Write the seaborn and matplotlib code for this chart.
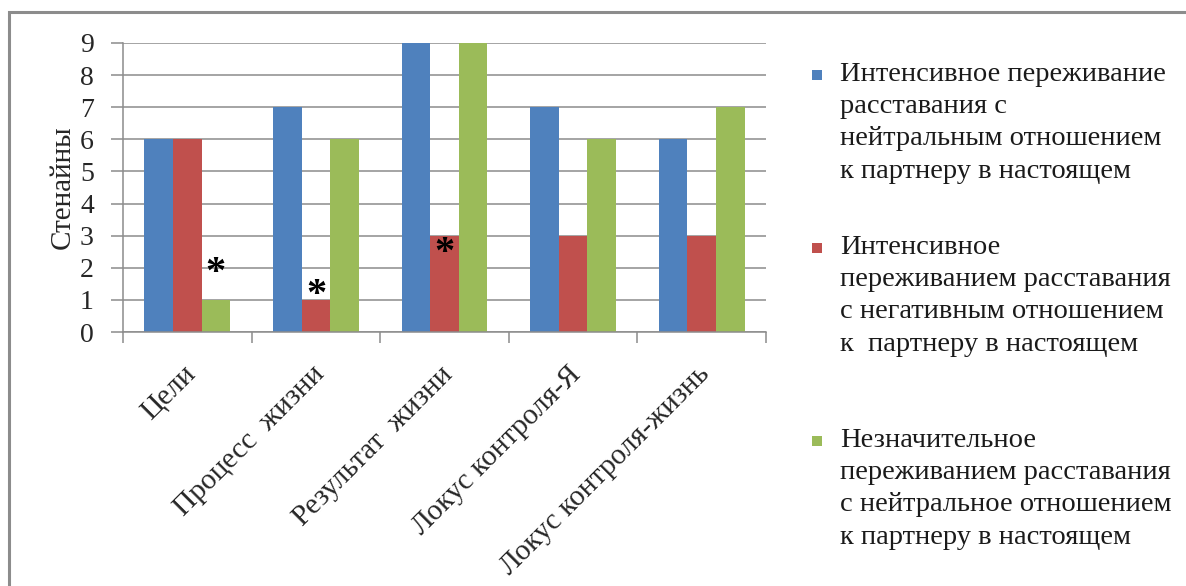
import matplotlib
matplotlib.use("Agg")
import matplotlib.pyplot as plt
import matplotlib.transforms as mtransforms
from matplotlib.patches import Rectangle
import seaborn as sns
import pandas as pd

categories = ["Цели", "Процесс  жизни", "Результат  жизни", "Локус контроля-Я", "Локус контроля-жизнь"]
series_names = [
    "Интенсивное переживание\nрасставания с\nнейтральным отношением\nк партнеру в настоящем",
    "Интенсивное\nпереживанием расставания\nс негативным отношением\nк  партнеру в настоящем",
    "Незначительное\nпереживанием расставания\nс нейтральное отношением\nк партнеру в настоящем",
]
intense_neutral = [6, 7, 9, 7, 6]
intense_negative = [6, 1, 3, 3, 3]
slight_neutral = [1, 6, 9, 6, 7]
colors = ["#4F81BD", "#C0504D", "#9BBB59"]
# (series index, category index, star height in stens)
significance = [(2, 0, 1.82), (1, 1, 1.15), (1, 2, 2.45)]

rows = []
for name, vals in zip(series_names, [intense_neutral, intense_negative, slight_neutral]):
    for c, v in zip(categories, vals):
        rows.append({"Категория": c, "Группа": name, "Стенайны": v})
df = pd.DataFrame(rows)

sns.set_theme(style="white")
plt.rcParams["font.family"] = ["Liberation Serif", "DejaVu Serif"]

fig = plt.figure(figsize=(11.86, 5.86), dpi=100)
ax = fig.add_axes([123 / 1186, 1 - 332 / 586, (766 - 123) / 1186, (332 - 43) / 586])

sns.barplot(data=df, x="Категория", y="Стенайны", hue="Группа",
            palette=colors, width=3 / 4.5, saturation=1, ax=ax,
            edgecolor="none", legend=False)

ax.set_ylim(0, 9)
ax.set_xlim(-0.5, len(categories) - 0.5)
ax.set_yticks(range(0, 10))
ax.yaxis.grid(True, color="#8c8c8c", lw=1.1)
ax.set_axisbelow(True)
for s in ["top", "right"]:
    ax.spines[s].set_visible(False)
for s in ["left", "bottom"]:
    ax.spines[s].set_color("#8c8c8c")
    ax.spines[s].set_linewidth(1.1)

ax.set_xlabel("")
ax.set_ylabel("Стенайны", fontsize=21, labelpad=3)
ax.tick_params(axis="y", labelsize=20, length=9, color="#8c8c8c", width=1.1, left=True, pad=12)
ax.set_xticks(range(len(categories)))
ax.set_xticklabels(categories, rotation=45, ha="right", rotation_mode="anchor", fontsize=21.2)
ax.tick_params(axis="x", which="major", length=0, pad=16)
ax.set_xticks([i - 0.5 for i in range(len(categories) + 1)], minor=True)
ax.tick_params(axis="x", which="minor", length=8, color="#8c8c8c", width=1.1, bottom=True)
shift = mtransforms.ScaledTranslation(-5 / 100, -7 / 100, fig.dpi_scale_trans)
for lbl in ax.get_xticklabels():
    lbl.set_transform(lbl.get_transform() + shift)

# significance asterisks, centred on the marked bars
n_cat = len(categories)
for si, ci, yv in significance:
    bar = ax.patches[si * n_cat + ci]
    xc = bar.get_x() + bar.get_width() / 2
    ax.text(xc, yv, "*", ha="center", va="center", fontsize=29, fontweight="bold", color="black")

# legend block at the right
leg_x_text = 840 / 1186
entries_top = [62, 235, 428]
for name, col, top in zip(series_names, colors, entries_top):
    fig.text(leg_x_text, 1 - top / 586, name, fontsize=20.5, va="top", ha="left",
             linespacing=1.38, color="#1a1a1a")
    fig.patches.append(Rectangle((812 / 1186, 1 - (top + 18) / 586), 10 / 1186, 10 / 586,
                                 transform=fig.transFigure, facecolor=col, edgecolor="none"))

# outer frame
fig.patches.append(Rectangle((9 / 1186, -0.05), 1.1, 1 - 12 / 586 + 0.05,
                             transform=fig.transFigure, facecolor="none",
                             edgecolor="#8c8c8c", lw=2.2))

fig.savefig("out.png", dpi=100)
